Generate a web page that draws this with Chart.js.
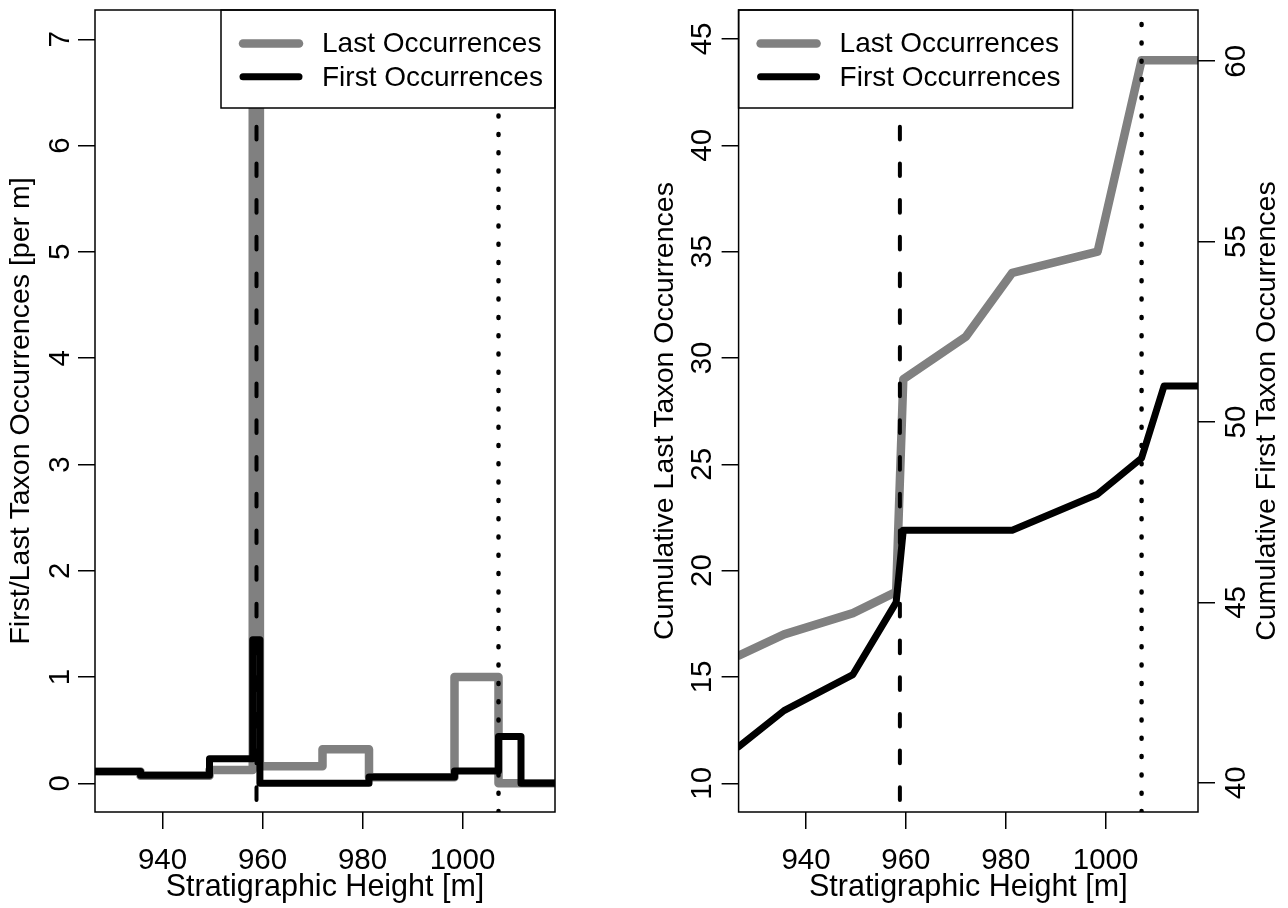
<!DOCTYPE html>
<html>
<head>
<meta charset="utf-8">
<script src="https://cdn.jsdelivr.net/npm/chart.js@4.4.0/dist/chart.umd.min.js"></script>
<style>
html, body { margin: 0; padding: 0; background: #ffffff; }
#wrap { position: relative; width: 1288px; height: 908px; overflow: hidden; }
.pane { position: absolute; top: 0; width: 644px; height: 908px; }
</style>
</head>
<body>
<div id="wrap">
  <div class="pane" style="left:0"><canvas id="left" width="644" height="908"></canvas></div>
  <div class="pane" style="left:644px"><canvas id="right" width="644" height="908"></canvas></div>
</div>
<script>
// ---- data ----
const heights   = [926.5, 935.6, 949.4, 958.05, 959.48, 972.0, 981.3, 998.4, 1007.2, 1011.7, 1018.5];
const lastRate  = [0.11, 0.072, 0.125, 6.99, 0.16, 0.32, 0.058, 1.0, 0, 0, 0];
const firstRate = [0.11, 0.075, 0.23, 1.35, 0, 0, 0.06, 0.115, 0.44, 0, 0];
const cumLast   = [16, 17, 18, 19, 29, 31, 34, 35, 44, 44, 44];
const cumFirst  = [41, 42, 43, 45, 47, 47, 47, 48, 49, 51, 51];
const dashedEventHeight = 958.8;
const dottedEventHeight = 1007.2;
const xTicks        = [940, 960, 980, 1000];
const rateTicks     = [0, 1, 2, 3, 4, 5, 6, 7];
const cumLastTicks  = [10, 15, 20, 25, 30, 35, 40, 45];
const cumFirstTicks = [40, 45, 50, 55, 60];
const seriesNames   = ['Last Occurrences', 'First Occurrences'];
const xTitle        = 'Stratigraphic Height [m]';
const rateTitle     = 'First/Last Taxon Occurrences [per m]';
const cumLastTitle  = 'Cumulative Last Taxon Occurrences';
const cumFirstTitle = 'Cumulative First Taxon Occurrences';

// ---- axis ranges ----
const xRange        = [926.5, 1018.5];
const rateRange     = [-0.27, 7.276];
const cumLastRange  = [8.65, 46.36];
const cumFirstRange = [39.19, 61.42];

// ---- styles ----
const FAMILY = "'Liberation Sans', Arial, Helvetica, sans-serif";
Chart.defaults.font.family = FAMILY;
Chart.defaults.color = '#000000';
const GRAY = '#808080';
const BLACK = '#000000';
const TICK_FONT = { size: 29.5 };
const XTITLE_FONT = { size: 30.5 };
const YTITLE_FONT = { size: 28.5 };

const pts = (xs, ys) => xs.map((x, i) => ({ x: x, y: ys[i] }));
const vline = (x, range) => [{ x: x, y: range[0] }, { x: x, y: range[1] }];
const plainLabel = v => String(v);

function fixedSize(w, h) {
  return function (s) {
    if (w !== null) s.width = w;
    if (h !== null) s.height = h;
    s.paddingTop = 0; s.paddingBottom = 0; s.paddingLeft = 0; s.paddingRight = 0;
  };
}
const setTicks = arr => s => { s.ticks = arr.map(v => ({ value: v })); };

function xScale() {
  return {
    type: 'linear', position: 'bottom', min: xRange[0], max: xRange[1],
    afterBuildTicks: setTicks(xTicks),
    afterFit: fixedSize(null, 96),
    grid: { display: true, drawOnChartArea: false, drawTicks: true, tickLength: 17, color: BLACK, lineWidth: 1.5 },
    border: { display: false },
    ticks: { font: TICK_FONT, color: BLACK, padding: 14.5, maxRotation: 0, minRotation: 0, autoSkip: false, callback: plainLabel },
    title: { display: true, text: xTitle, font: XTITLE_FONT, color: BLACK, padding: { top: 0, bottom: 1.8 } }
  };
}
function yScale(pos, range, ticks, width, pad, title, titlePad) {
  return {
    type: 'linear', position: pos, min: range[0], max: range[1],
    afterBuildTicks: setTicks(ticks),
    afterFit: fixedSize(width, null),
    grid: { display: true, drawOnChartArea: false, drawTicks: true, tickLength: 17, color: BLACK, lineWidth: 1.5 },
    border: { display: false },
    ticks: { font: TICK_FONT, color: BLACK, padding: pad, minRotation: 90, maxRotation: 90, crossAlign: 'center', autoSkip: false, callback: plainLabel },
    title: title ? { display: true, text: title, font: YTITLE_FONT, color: BLACK, padding: { top: titlePad, bottom: 0 } } : { display: false }
  };
}

const framePlugin = {
  id: 'frame',
  afterDatasetsDraw(chart, args, o) {
    const ctx = chart.ctx, a = chart.chartArea;
    ctx.save();
    const lw = 334, lh = 98;
    const lx = o.legendAlign === 'right' ? a.right - lw : a.left;
    const ly = a.top;
    ctx.fillStyle = '#ffffff';
    ctx.fillRect(lx, ly, lw, lh);
    ctx.strokeStyle = BLACK; ctx.lineWidth = 1.5;
    ctx.strokeRect(lx, ly, lw, lh);
    const items = chart.data.datasets.filter(d => d.inLegend !== undefined).sort((p, q) => p.inLegend - q.inLegend);
    items.forEach((d, i) => {
      const y = ly + 33.5 + i * 33.3;
      ctx.beginPath();
      ctx.lineCap = 'round';
      ctx.strokeStyle = d.borderColor;
      ctx.lineWidth = d.borderWidth;
      ctx.moveTo(lx + 22, y); ctx.lineTo(lx + 78, y);
      ctx.stroke();
      ctx.fillStyle = BLACK;
      ctx.font = '28px ' + FAMILY;
      ctx.textAlign = 'left'; ctx.textBaseline = 'middle';
      ctx.fillText(d.label, lx + 101, y + 1);
    });
    ctx.lineCap = 'butt';
    ctx.strokeStyle = BLACK; ctx.lineWidth = 1.5;
    ctx.strokeRect(a.left, a.top, a.right - a.left, a.bottom - a.top);
    if (o.rightTitle) {
      ctx.translate(o.rightTitleX, (a.top + a.bottom) / 2);
      ctx.rotate(-Math.PI / 2);
      ctx.fillStyle = BLACK;
      ctx.font = YTITLE_FONT.size + 'px ' + FAMILY;
      ctx.textAlign = 'center'; ctx.textBaseline = 'middle';
      ctx.fillText(o.rightTitle, 0, 0);
    }
    ctx.restore();
  }
};

const lineStyle = (color, width) => ({
  borderColor: color, borderWidth: width, pointRadius: 0, fill: false,
  borderCapStyle: 'round', borderJoinStyle: 'round', clip: 0, tension: 0
});
const dashedStyle = { borderColor: BLACK, borderWidth: 4, borderDash: [12.7, 24], borderDashOffset: 24.7, pointRadius: 0, fill: false, borderCapStyle: 'round', clip: 0 };
const dottedStyle = { borderColor: BLACK, borderWidth: 4.5, borderDash: [1, 17.3], pointRadius: 0, fill: false, borderCapStyle: 'round', clip: 0 };

// ---- left chart: rates ----
new Chart(document.getElementById('left'), {
  type: 'line',
  data: {
    datasets: [
      Object.assign({ label: 'dashed', data: vline(dashedEventHeight, rateRange), order: 0 }, dashedStyle),
      Object.assign({ label: 'dotted', data: vline(dottedEventHeight, rateRange), order: 0 }, dottedStyle),
      Object.assign({ label: seriesNames[1], data: pts(heights, firstRate), stepped: true, order: 1, inLegend: 1 }, lineStyle(BLACK, 7)),
      Object.assign({ label: seriesNames[0], data: pts(heights, lastRate), stepped: true, order: 2, inLegend: 0 }, lineStyle(GRAY, 8.5))
    ]
  },
  options: {
    responsive: false, animation: false,
    layout: { padding: { top: 10, right: 89, left: 0, bottom: 0 } },
    plugins: { legend: { display: false }, tooltip: { enabled: false }, frame: { legendAlign: 'right' } },
    scales: {
      x: xScale(),
      y: yScale('left', rateRange, rateTicks, 95, 8.5, rateTitle, 4.2)
    }
  },
  plugins: [framePlugin]
});

// ---- right chart: cumulative ----
new Chart(document.getElementById('right'), {
  type: 'line',
  data: {
    datasets: [
      Object.assign({ label: 'dashed', data: vline(dashedEventHeight, cumLastRange), yAxisID: 'yL', order: 0 }, dashedStyle),
      Object.assign({ label: 'dotted', data: vline(dottedEventHeight, cumLastRange), yAxisID: 'yL', order: 0 }, dottedStyle),
      Object.assign({ label: seriesNames[1], data: pts(heights, cumFirst), yAxisID: 'yF', order: 1, inLegend: 1 }, lineStyle(BLACK, 7)),
      Object.assign({ label: seriesNames[0], data: pts(heights, cumLast), yAxisID: 'yL', order: 2, inLegend: 0 }, lineStyle(GRAY, 8.5))
    ]
  },
  options: {
    responsive: false, animation: false,
    layout: { padding: { top: 10, right: 0, left: 0, bottom: 0 } },
    plugins: { legend: { display: false }, tooltip: { enabled: false },
      frame: { legendAlign: 'left', rightTitle: cumFirstTitle, rightTitleX: 623 } },
    scales: {
      x: xScale(),
      yL: yScale('left', cumLastRange, cumLastTicks, 94.6, 1.9, cumLastTitle, 3.8),
      yF: yScale('right', cumFirstRange, cumFirstTicks, 90, 5.5, null, 0)
    }
  },
  plugins: [framePlugin]
});
</script>
</body>
</html>
